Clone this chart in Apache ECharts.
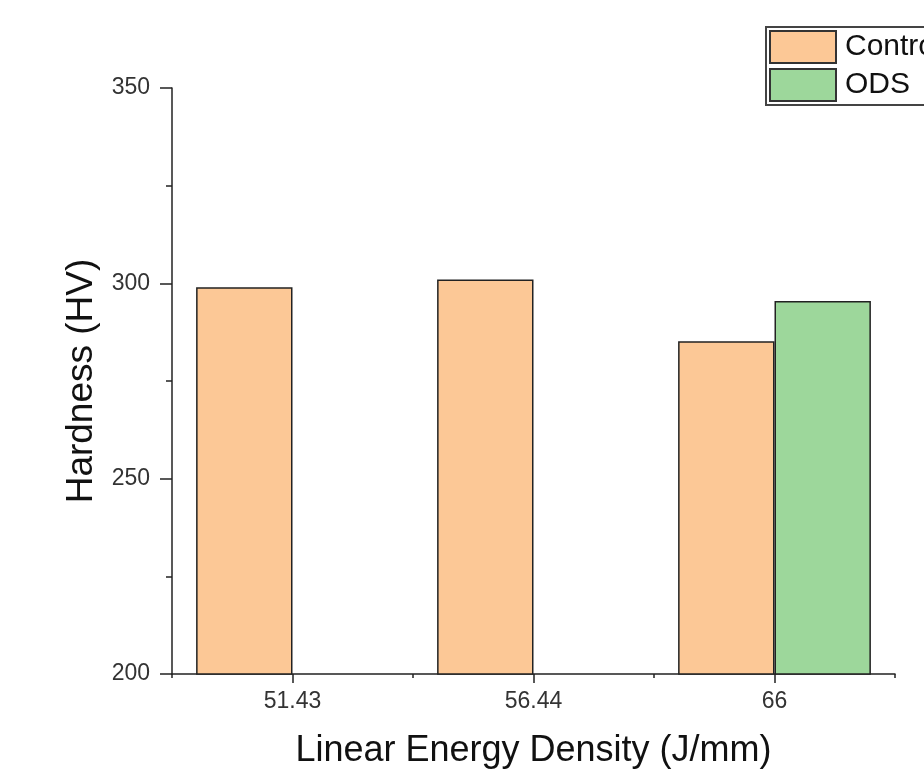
<!DOCTYPE html>
<html>
<head>
<meta charset="utf-8">
<script src="https://cdn.jsdelivr.net/npm/echarts@6/dist/echarts.min.js"></script>
<style>
    html, body { margin: 0; padding: 0; background: #fff; }
    #chart { width: 924px; height: 770px; }
</style>
</head>
<body>
<div id="chart"></div>
<script>
    // data
    var categories = ['51.43', '56.44', '66'];
    var controlValues = [299, 301, 285.2];
    var odsValues = [null, null, 295.5];
    var seriesNames = ['Control', 'ODS'];

    var font = 'Liberation Sans, Arial, sans-serif';
    var myChart = echarts.init(document.getElementById('chart'));

    var option = {
        animation: false,
        backgroundColor: '#fff',
        grid: {
            left: 172,
            right: 29,
            top: 88,
            bottom: 96,
            outerBoundsMode: 'none'
        },
        legend: {
            orient: 'vertical',
            left: 766,
            top: 27,
            padding: [3, 80, 3, 3],
            itemGap: 4,
            itemWidth: 66,
            itemHeight: 32,
            icon: 'rect',
            borderColor: '#444',
            borderWidth: 2,
            itemStyle: { borderColor: '#333', borderWidth: 2 },
            textStyle: { fontFamily: font, fontSize: 30, color: '#111', padding: [0, 0, 0, 4] },
            data: seriesNames
        },
        xAxis: [{
            type: 'category',
            data: categories,
            name: 'Linear Energy Density (J/mm)',
            nameLocation: 'middle',
            nameGap: 59,
            nameTextStyle: { fontFamily: font, fontSize: 36, color: '#111' },
            axisLine: { lineStyle: { color: '#222', width: 1.5 } },
            axisTick: { show: true, alignWithLabel: true, length: 9, lineStyle: { color: '#222', width: 1.5 } },
            axisLabel: { fontFamily: font, fontSize: 23, color: '#333', margin: 16 }
        }, {
            // boundary ticks between categories
            type: 'category',
            data: categories,
            position: 'bottom',
            axisLine: { show: false },
            axisTick: { show: true, length: 4, lineStyle: { color: '#222', width: 1.5 } },
            axisLabel: { show: false }
        }],
        yAxis: {
            type: 'value',
            min: 200,
            max: 350,
            interval: 50,
            name: 'Hardness (HV)',
            nameLocation: 'middle',
            nameGap: 70,
            nameTextStyle: { fontFamily: font, fontSize: 37, color: '#111' },
            splitLine: { show: false },
            axisLine: { show: true, lineStyle: { color: '#222', width: 1.5 } },
            axisTick: { show: true, length: 12, lineStyle: { color: '#222', width: 1.5 } },
            minorTick: { show: true, splitNumber: 2, length: 6, lineStyle: { color: '#222', width: 1.5 } },
            axisLabel: { fontFamily: font, fontSize: 23, color: '#333', margin: 22 }
        },
        series: [{
            name: seriesNames[0],
            type: 'bar',
            data: controlValues,
            barGap: 0,
            barCategoryGap: '20%',
            itemStyle: { color: '#FCC896', borderColor: '#222', borderWidth: 1.5 }
        }, {
            name: seriesNames[1],
            type: 'bar',
            data: odsValues,
            barGap: 0,
            barCategoryGap: '20%',
            itemStyle: { color: '#9DD79B', borderColor: '#222', borderWidth: 1.5 }
        }]
    };
    myChart.setOption(option);
</script>
</body>
</html>
